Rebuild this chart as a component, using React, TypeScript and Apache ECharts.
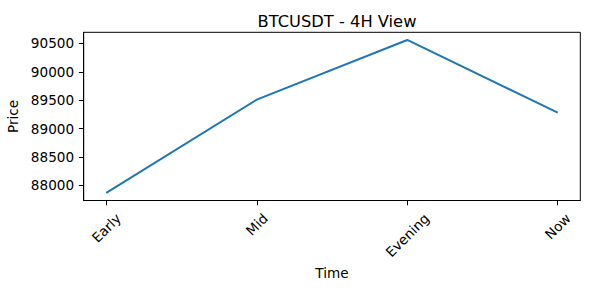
import React, { useEffect, useRef } from "react";
import * as echarts from "echarts";

const categories = ["Early", "Mid", "Evening", "Now"];
const prices = [87870, 89510, 90560, 89280];
const yTicks = [88000, 88500, 89000, 89500, 90000, 90500];

const FONT = "DejaVu Sans";
const TICK_FS = 13.6;

function measure(text: string, size: number): number {
  try {
    const c = document.createElement("canvas");
    const ctx = c.getContext("2d");
    if (ctx) {
      ctx.font = `${size}px "${FONT}"`;
      return ctx.measureText(text).width;
    }
  } catch (e) {}
  return text.length * size * 0.6;
}

export default function App() {
  const ref = useRef<HTMLDivElement>(null);
  useEffect(() => {
    if (!ref.current) return;
    const chart = echarts.init(ref.current, undefined, { renderer: "svg" });
    const dmin = Math.min(...prices);
    const dmax = Math.max(...prices);
    const pad = (dmax - dmin) * 0.05;
    const n = categories.length;
    const xpad = (n - 1) * 0.05;

    const rich: Record<string, any> = {};
    categories.forEach((c, i) => {
      const L = measure(c, TICK_FS);
      rich["r" + i] = {
        fontFamily: FONT,
        fontSize: TICK_FS,
        color: "#000",
        padding: [L / 2, L / 2, 0, 0],
      };
    });

    chart.setOption({
      animation: false,
      title: {
        text: "BTCUSDT - 4H View",
        left: 332,
        top: 8,
        textAlign: "center",
        textStyle: { fontFamily: FONT, fontSize: 16.3, fontWeight: "normal", color: "#000" },
      },
      grid: {
        left: 83.7,
        right: 9.7,
        top: 32.3,
        bottom: 89.5,
        containLabel: false,
        outerBoundsMode: "none",
        show: true,
        borderColor: "#000",
        borderWidth: 1,
        backgroundColor: "transparent",
      },
      xAxis: {
        type: "value",
        min: -xpad,
        max: n - 1 + xpad,
        name: "Time",
        nameLocation: "middle",
        nameGap: 64,
        nameTextStyle: { fontFamily: FONT, fontSize: TICK_FS, color: "#000" },
        splitLine: { show: false },
        axisLine: { show: true, onZero: false, lineStyle: { color: "#000", width: 1 } },
        axisTick: {
          show: true,
          length: 4.8,
          customValues: categories.map((_, i) => i),
          lineStyle: { color: "#000", width: 1 },
        },
        axisLabel: {
          customValues: categories.map((_, i) => i),
          rotate: 45,
          margin: 15.3,
          align: "center",
          verticalAlign: "middle",
          formatter: (v: number) => {
            const i = Math.round(v);
            return `{r${i}|${categories[i]}}`;
          },
          rich,
        },
      },
      yAxis: {
        type: "value",
        min: dmin - pad,
        max: dmax + pad,
        name: "Price",
        nameLocation: "middle",
        nameRotate: 90,
        nameGap: 58.5,
        nameTextStyle: { fontFamily: FONT, fontSize: TICK_FS, color: "#000" },
        splitLine: { show: false },
        axisLine: { show: true, onZero: false, lineStyle: { color: "#000", width: 1 } },
        axisTick: {
          show: true,
          length: 4.8,
          customValues: yTicks,
          lineStyle: { color: "#000", width: 1 },
        },
        axisLabel: {
          customValues: yTicks,
          margin: 9.6,
          fontFamily: FONT,
          fontSize: TICK_FS,
          color: "#000",
          formatter: (v: number) => String(v),
        },
      },
      series: [
        {
          type: "line",
          data: prices.map((p, i) => [i, p]),
          showSymbol: false,
          lineStyle: { color: "#1f77b4", width: 2 },
          itemStyle: { color: "#1f77b4" },
        },
      ],
    });
    return () => chart.dispose();
  }, []);
  return <div ref={ref} style={{ width: 590, height: 290, position: "absolute", left: 0, top: 0 }} />;
}
